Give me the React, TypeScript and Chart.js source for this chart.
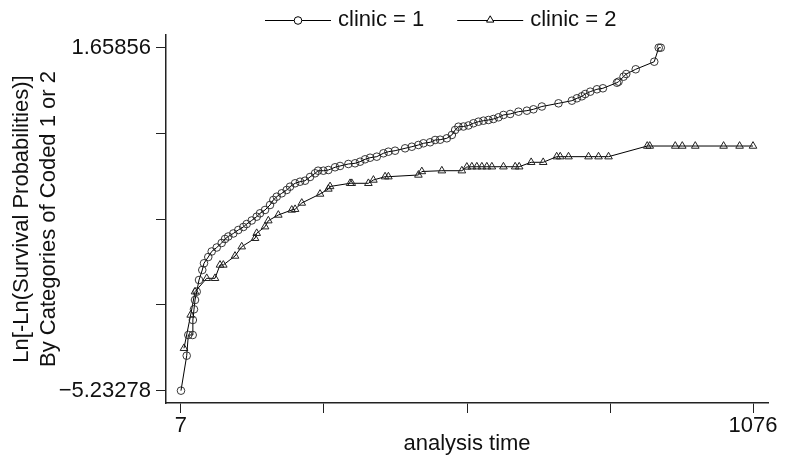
import React, { useEffect, useRef } from 'react';
import { Chart, registerables } from 'chart.js';

Chart.register(...registerables);

// ---- data ----
const clinic1Time = [
  7, 17.7, 20.7, 28.9, 29.2, 31.3, 33.2, 36.4, 40.7, 46.8, 50.0, 58.0, 64.4, 73.8, 83.1, 89.3, 95.4,
  104.8, 114.1, 123.5, 129.8, 139.2, 148.5, 154.7, 164.1, 173.4, 179.6, 185.9, 195.3, 204.6, 210.8,
  220.2, 229.5, 238.9, 248.2, 257.6, 263.2, 273.1, 282.4, 294.9, 304.3, 319.8, 332.3, 341.7, 351.0,
  360.4, 372.9, 385.3, 394.6, 407.1, 425.8, 438.4, 450.7, 460.1, 472.6, 481.9, 491.3, 503.8, 513.2,
  519.3, 525.5, 534.8, 544.2, 553.5, 562.9, 572.2, 581.6, 590.9, 600.3, 609.6, 622.2, 637.7, 653.4,
  665.7, 681.4, 712.5, 737.5, 746.9, 756.2, 762.4, 771.8, 784.3, 795.5, 821.7, 824.7, 834.0, 839.1,
  856.8, 891.4, 899.8, 903.6,
];
const clinic1Value = [
  -5.23278, -4.53, -4.114, -4.114, -3.813, -3.598, -3.411, -3.244, -3.009, -2.808, -2.673, -2.547,
  -2.436, -2.356, -2.265, -2.185, -2.135, -2.074, -2.004, -1.944, -1.884, -1.813, -1.737, -1.669,
  -1.602, -1.502, -1.401, -1.335, -1.267, -1.2, -1.134, -1.066, -1.034, -1.014, -0.939, -0.865,
  -0.813, -0.813, -0.799, -0.744, -0.718, -0.678, -0.664, -0.632, -0.584, -0.552, -0.531, -0.463,
  -0.431, -0.411, -0.363, -0.331, -0.296, -0.262, -0.242, -0.196, -0.19, -0.162, -0.095, 0.005,
  0.071, 0.075, 0.096, 0.14, 0.172, 0.192, 0.206, 0.226, 0.26, 0.307, 0.327, 0.373, 0.393, 0.421,
  0.477, 0.541, 0.594, 0.642, 0.682, 0.728, 0.775, 0.823, 0.843, 0.955, 0.976, 1.076, 1.13, 1.225,
  1.377, 1.65856, 1.65856,
];
const clinic2Time = [
  12.6, 25.1, 33.2, 55.1, 70.6, 79.9, 86.1, 108.0, 120.5, 145.4, 148.5, 164.1, 170.2, 188.9, 214.0,
  220.2, 232.7, 266.9, 282.4, 285.6, 323.0, 326.2, 357.2, 366.6, 388.4, 394.6, 450.7, 457.1, 494.5,
  531.9, 541.2, 550.6, 559.9, 569.3, 578.6, 588.0, 609.6, 631.5, 639.0, 661.4, 683.9, 709.1, 715.7,
  731.2, 768.6, 787.3, 806.0, 878.3, 883.0, 930.7, 943.8, 968.1, 1021.0, 1050.9, 1076,
];
const clinic2Value = [
  -4.381, -3.712, -3.244, -2.975, -2.975, -2.707, -2.707, -2.527, -2.34, -2.171, -2.07, -1.938,
  -1.817, -1.703, -1.602, -1.588, -1.462, -1.281, -1.18, -1.13, -1.066, -1.066, -1.066, -1.0,
  -0.933, -0.933, -0.899, -0.829, -0.813, -0.813, -0.738, -0.733, -0.733, -0.733, -0.733, -0.733,
  -0.733, -0.733, -0.733, -0.644, -0.644, -0.531, -0.531, -0.531, -0.531, -0.531, -0.531, -0.317,
  -0.317, -0.317, -0.317, -0.317, -0.317, -0.317, -0.317,
];
const seriesLabels = ['clinic = 1', 'clinic = 2'];
const xTickValues = [7, 274.25, 541.5, 808.75, 1076];
const xTickLabels = ['7', '', '', '', '1076'];
const yTickValues = [-5.23278, -3.50995, -1.78711, -0.06428, 1.65856];
const yTickLabels = ['\u22125.23278', '', '', '', '1.65856'];
const xTitle = 'analysis time';
const yTitle = ['Ln[-Ln(Survival Probabilities)]', 'By Categories of Coded 1 or 2'];
const xRange = [-21, 1104];
const yRange = [-5.4805, 1.9137];

const FONT = '"Liberation Sans", Arial, Helvetica, sans-serif';
const INK = '#111';

const legendPlugin = {
  id: 'stataLegend',
  afterDraw(chart: any) {
    const ctx: CanvasRenderingContext2D = chart.ctx;
    ctx.save();
    ctx.font = `22px ${FONT}`;
    ctx.textBaseline = 'middle';
    ctx.lineWidth = 1;
    ctx.strokeStyle = '#000';
    let x = 265;
    const y = 20;
    chart.data.datasets.forEach((ds: any, i: number) => {
      ctx.beginPath();
      ctx.moveTo(x, y + 0.5);
      ctx.lineTo(x + 66, y + 0.5);
      ctx.stroke();
      const cx = x + 33;
      ctx.beginPath();
      if (i === 0) {
        ctx.arc(cx, y + 0.5, 3.8, 0, Math.PI * 2);
      } else {
        const r = 4.2;
        ctx.moveTo(cx, y - r);
        ctx.lineTo(cx + 0.866 * r, y + 0.5 * r);
        ctx.lineTo(cx - 0.866 * r, y + 0.5 * r);
        ctx.closePath();
      }
      ctx.fillStyle = '#fff';
      ctx.fill();
      ctx.stroke();
      ctx.fillStyle = INK;
      ctx.fillText(ds.label, x + 73, y);
      x += 73 + ctx.measureText(ds.label).width + 33;
    });
    ctx.restore();
  },
};

export default function App() {
  const ref = useRef<HTMLCanvasElement | null>(null);

  useEffect(() => {
    if (!ref.current) return;
    const toPoints = (xs: number[], ys: number[]) => xs.map((x, i) => ({ x, y: ys[i] }));
    const chart = new Chart(ref.current, {
      type: 'scatter',
      data: {
        datasets: [
          {
            label: seriesLabels[0],
            data: toPoints(clinic1Time, clinic1Value),
            showLine: true,
            borderColor: '#000',
            borderWidth: 1,
            pointStyle: 'circle',
            pointRadius: 3.8,
            pointBorderWidth: 0.9,
            pointBorderColor: '#222',
            pointBackgroundColor: 'rgba(0,0,0,0)',
          },
          {
            label: seriesLabels[1],
            data: toPoints(clinic2Time, clinic2Value),
            showLine: true,
            borderColor: '#000',
            borderWidth: 1,
            pointStyle: 'triangle',
            pointRadius: 4.4,
            pointBorderWidth: 1,
            pointBorderColor: '#222',
            pointBackgroundColor: 'rgba(0,0,0,0)',
          },
        ],
      },
      options: {
        responsive: false,
        animation: false,
        layout: { padding: { left: 0, top: 35, right: 17, bottom: 0 } },
        plugins: {
          legend: { display: false },
          tooltip: { enabled: false },
        },
        font: { family: FONT, size: 22 },
        scales: {
          x: {
            type: 'linear',
            min: xRange[0],
            max: xRange[1],
            afterBuildTicks: (s: any) => {
              s.ticks = xTickValues.map((v) => ({ value: v }));
            },
            afterFit: (s: any) => {
              s.height = 53;
            },
            ticks: {
              autoSkip: false,
              maxRotation: 0,
              padding: 0,
              color: INK,
              font: { family: FONT, size: 22 },
              callback: (_v: any, i: number) => xTickLabels[i],
            },
            grid: {
              drawOnChartArea: false,
              drawTicks: true,
              tickLength: 10,
              tickColor: '#222',
              tickWidth: 1,
            },
            border: { display: true, color: '#222', width: 1.5 },
            title: {
              display: true,
              text: xTitle,
              color: INK,
              font: { family: FONT, size: 22, lineHeight: 1.1 },
              padding: { top: 0, bottom: 0 },
            },
          },
          y: {
            type: 'linear',
            min: yRange[0],
            max: yRange[1],
            afterBuildTicks: (s: any) => {
              s.ticks = yTickValues.map((v) => ({ value: v }));
            },
            afterFit: (s: any) => {
              s.width = 166;
            },
            ticks: {
              autoSkip: false,
              padding: 5,
              color: INK,
              font: { family: FONT, size: 22 },
              callback: (_v: any, i: number) => yTickLabels[i],
            },
            grid: {
              drawOnChartArea: false,
              drawTicks: true,
              tickLength: 10,
              tickColor: '#222',
              tickWidth: 1,
            },
            border: { display: true, color: '#222', width: 1.5 },
            title: {
              display: true,
              text: yTitle,
              color: INK,
              font: { family: FONT, size: 22 },
              padding: { top: 9, bottom: 0 },
            },
          },
        },
      } as any,
      plugins: [legendPlugin],
    });
    return () => chart.destroy();
  }, []);

  return (
    <canvas
      ref={ref}
      width={785}
      height={456}
      style={{ position: 'fixed', left: 0, top: 0, width: 785, height: 456, display: 'block', background: '#fff' }}
    />
  );
}
